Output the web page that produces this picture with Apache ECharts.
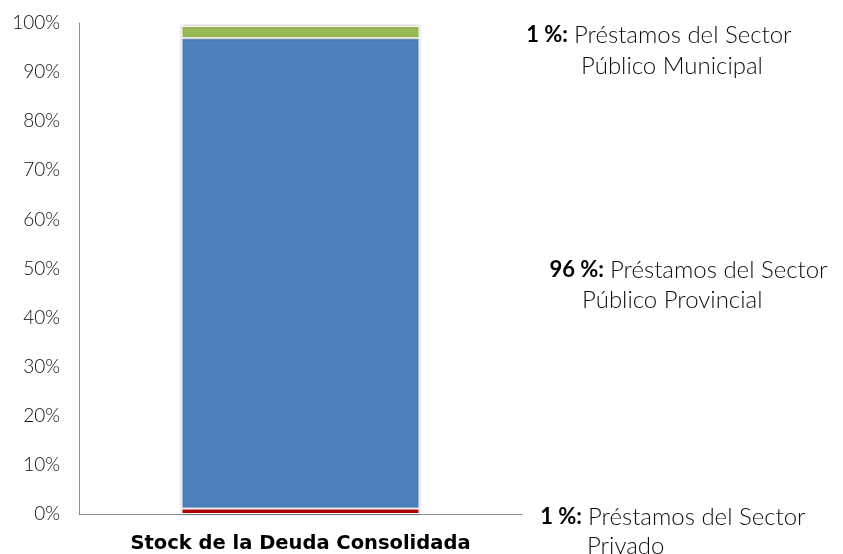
<!DOCTYPE html>
<html>
<head>
<meta charset="utf-8">
<script src="https://cdn.jsdelivr.net/npm/echarts@6/dist/echarts.min.js"></script>
<style>
  html, body { margin: 0; padding: 0; background: #fff; }
  #chart { width: 843px; height: 554px; }
</style>
</head>
<body>
<div id="chart"></div>
<script>
  const categories = ['Stock de la Deuda Consolidada'];
  const seriesNames = ['Préstamos del Sector Privado', 'Préstamos del Sector Público Provincial', 'Préstamos del Sector Público Municipal'];
  const privado = [1.1];
  const provincial = [95.8];
  const municipal = [2.5];
  const colors = ['#C00000', '#4F81BD', '#9BBB59'];

  // textos de la derecha (de arriba hacia abajo)
  const notePct = ['1 %:', '96 %:', '1 %:'];
  const noteLine1 = ['Préstamos del Sector', 'Préstamos del Sector', 'Préstamos del Sector'];
  const noteLine2 = ['Público Municipal', 'Público Provincial', 'Privado'];

  const FONT = 'Lato, "Noto Sans", sans-serif';

  // posiciones de los textos
  const notePos = [
    { x1: 574, x2: 581, y1: 35, y2: 66 },
    { x1: 610, x2: 582, y1: 270, y2: 300 },
    { x1: 588, x2: 587, y1: 517, y2: 546 }
  ];

  const graphics = [];
  notePct.forEach((p, i) => {
    const pos = notePos[i];
    graphics.push({
      type: 'text', x: pos.x1 - 6, y: pos.y1,
      style: { text: p, font: 'bold 22px ' + FONT, fill: '#000', align: 'right', verticalAlign: 'middle' }
    });
    graphics.push({
      type: 'text', x: pos.x1, y: pos.y1,
      style: { text: noteLine1[i], font: '300 24px ' + FONT, fill: '#0d0d0d', align: 'left', verticalAlign: 'middle' }
    });
    graphics.push({
      type: 'text', x: pos.x2, y: pos.y2,
      style: { text: noteLine2[i], font: '300 24px ' + FONT, fill: '#0d0d0d', align: 'left', verticalAlign: 'middle' }
    });
  });

  const barStyle = (c) => ({
    color: c,
    borderColor: '#fff',
    borderWidth: 1,
    shadowColor: 'rgba(0,0,0,0.25)',
    shadowBlur: 3
  });

  const chart = echarts.init(document.getElementById('chart'));
  chart.setOption({
    animation: false,
    textStyle: { fontFamily: FONT },
    grid: { left: 79, right: 321, top: 23, bottom: 39 },
    xAxis: {
      type: 'category',
      data: categories,
      axisLine: { lineStyle: { color: '#8c8c8c' } },
      axisTick: { show: false },
      axisLabel: { fontSize: 19.5, fontWeight: 'bold', fontFamily: '"DejaVu Sans", sans-serif', color: '#000', margin: 20 }
    },
    yAxis: {
      type: 'value',
      min: 0, max: 100, interval: 10,
      axisLine: { show: true, lineStyle: { color: '#8c8c8c' } },
      axisTick: { show: false },
      splitLine: { show: false },
      axisLabel: { formatter: '{value}%', fontSize: 19, fontWeight: 300, color: '#0d0d0d', margin: 19 }
    },
    series: [
      { name: seriesNames[0], type: 'bar', stack: 'total', barWidth: 238, data: privado, itemStyle: barStyle(colors[0]) },
      { name: seriesNames[1], type: 'bar', stack: 'total', barWidth: 238, data: provincial, itemStyle: barStyle(colors[1]) },
      { name: seriesNames[2], type: 'bar', stack: 'total', barWidth: 238, data: municipal, itemStyle: barStyle(colors[2]) }
    ],
    graphic: graphics
  });
</script>
</body>
</html>
